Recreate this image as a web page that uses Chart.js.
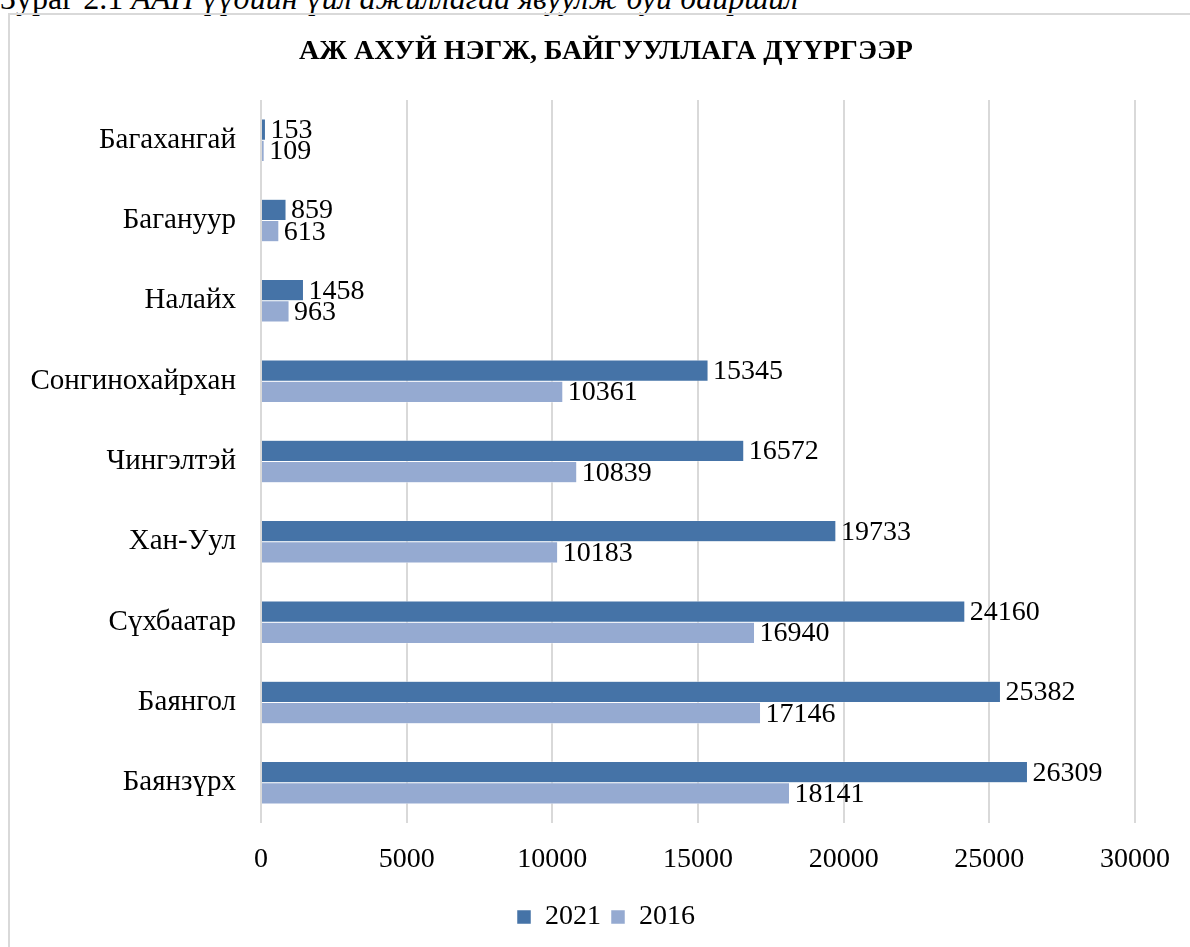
<!DOCTYPE html>
<html>
<head>
<meta charset="utf-8">
<script src="https://cdn.jsdelivr.net/npm/chart.js@4/dist/chart.umd.min.js"></script>
<style>
    html, body { margin: 0; padding: 0; background: #fff; overflow: hidden; }
    #wrap { position: relative; width: 1190px; height: 947px; }
    #caption {
        position: absolute; left: 0; top: -18px; white-space: nowrap; line-height: 32px;
        font-family: 'Liberation Serif', 'Times New Roman', serif; font-size: 32px; color: #000;
    }
    #frame {
        position: absolute; left: 8px; top: 13px; width: 1200px; height: 960px;
        border: 2px solid #d9d9d9; box-sizing: border-box;
    }
    #chart { position: absolute; left: 0; top: 0; }
</style>
</head>
<body>
<div id="wrap">
    <div id="caption">Зураг 2.1 <i>ААН үүдийн үйл ажиллагаа явуулж буй байршил</i></div>
    <div id="frame"></div>
    <canvas id="chart" width="1190" height="947"></canvas>
</div>
<script>
// Districts, top to bottom
const districts = ['Багахангай', 'Багануур', 'Налайх', 'Сонгинохайрхан', 'Чингэлтэй', 'Хан-Уул', 'Сүхбаатар', 'Баянгол', 'Баянзүрх'];
const values2021 = [153, 859, 1458, 15345, 16572, 19733, 24160, 25382, 26309];
const values2016 = [109, 613, 963, 10361, 10839, 10183, 16940, 17146, 18141];
const xTicks = [0, 5000, 10000, 15000, 20000, 25000, 30000];

const FONT = "'Liberation Serif', 'Times New Roman', serif";

// Draw the value at the end of each bar
const barLabels = {
    id: 'barLabels',
    afterDatasetsDraw(chart) {
        const ctx = chart.ctx;
        ctx.save();
        ctx.font = '28px ' + FONT;
        ctx.fillStyle = '#000';
        ctx.textAlign = 'left';
        ctx.textBaseline = 'middle';
        chart.data.datasets.forEach((ds, i) => {
            chart.getDatasetMeta(i).data.forEach((bar, j) => {
                ctx.fillText(ds.data[j], bar.x + 5, bar.y + 1);
            });
        });
        ctx.restore();
    }
};

new Chart(document.getElementById('chart'), {
    type: 'bar',
    data: {
        labels: districts,
        datasets: [{
            label: '2021',
            data: values2021,
            backgroundColor: '#4573a7',
            borderColor: '#ffffff',
            borderWidth: 0.5
        }, {
            label: '2016',
            data: values2016,
            backgroundColor: '#95aad1',
            borderColor: '#ffffff',
            borderWidth: 0.5
        }]
    },
    options: {
        indexAxis: 'y',
        responsive: false,
        animation: false,
        // left padding shifts the centre of title and legend to match the original
        layout: { padding: { left: 74, right: 52, top: 0, bottom: 6 } },
        datasets: { bar: { categoryPercentage: 0.53, barPercentage: 1.0 } },
        plugins: {
            title: {
                display: true,
                text: 'АЖ АХУЙ НЭГЖ, БАЙГУУЛЛАГА ДҮҮРГЭЭР',
                color: '#000',
                font: { family: FONT, size: 28, weight: 'bold' },
                padding: { top: 35, bottom: 31.4 }
            },
            legend: {
                position: 'bottom',
                labels: {
                    color: '#000',
                    font: { family: FONT, size: 28 },
                    boxWidth: 14,
                    boxHeight: 14,
                    padding: 10
                }
            },
            tooltip: { enabled: false }
        },
        scales: {
            x: {
                min: 0,
                max: 30000,
                afterBuildTicks: function(scale) {
                    scale.ticks = xTicks.map(v => ({ value: v }));
                },
                afterFit: function(scale) { scale.height = 70; },
                grid: { color: '#d9d9d9', lineWidth: 2, drawTicks: false },
                border: { display: false },
                ticks: {
                    color: '#000',
                    font: { family: FONT, size: 28 },
                    padding: 20,
                    callback: function(value) { return String(value); }
                }
            },
            y: {
                afterFit: function(scale) {
                    scale.width = 187;
                    // long names reach into the padding, so don't clip them
                    scale._computeLabelArea = function() { return undefined; };
                },
                grid: { display: false, drawTicks: false },
                border: { display: false },
                ticks: {
                    color: '#000',
                    font: { family: FONT, size: 29 },
                    padding: 25
                }
            }
        }
    },
    plugins: [barLabels]
});
</script>
</body>
</html>
